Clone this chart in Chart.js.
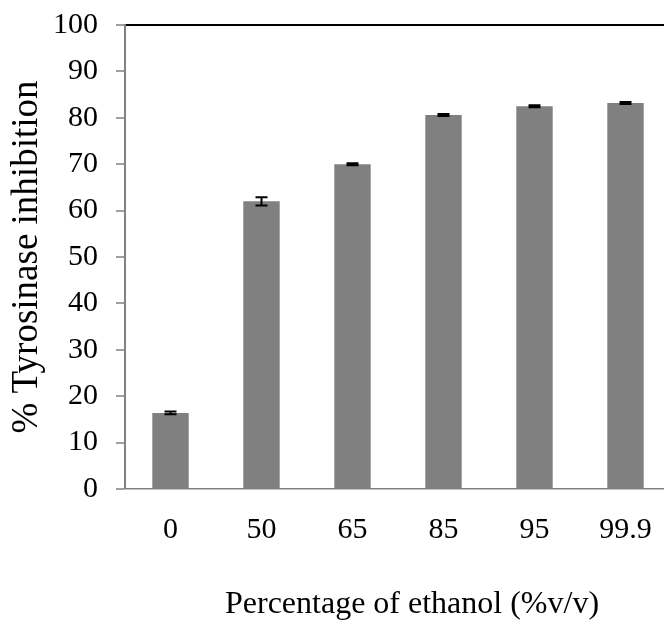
<!DOCTYPE html>
<html>
<head>
<meta charset="utf-8">
<script src="https://cdn.jsdelivr.net/npm/chart.js@4/dist/chart.umd.min.js"></script>
<style>
  html, body { margin: 0; padding: 0; background: #fff; overflow: hidden; }
  canvas { display: block; }
</style>
</head>
<body>
<canvas id="chart" width="824" height="628"></canvas>
<script>
// Ethanol concentration of the extraction solvent (% v/v)
const categories = ['0', '50', '65', '85', '95', '99.9'];
// Mean tyrosinase inhibition (%)
const inhibition = [16.4, 62.0, 70.0, 80.6, 82.5, 83.2];
// Standard deviation for each mean
const errors = [0.3, 0.9, 0.2, 0.2, 0.2, 0.2];
// Value-axis ticks
const yTicks = [0, 10, 20, 30, 40, 50, 60, 70, 80, 90, 100];

const serif = "'Liberation Serif', 'Times New Roman', serif";

// Draws a black error bar (whisker with caps) over each bar
const errorBarPlugin = {
  id: 'errorBars',
  afterDatasetsDraw(chart) {
    const { ctx, scales: { y } } = chart;
    const meta = chart.getDatasetMeta(0);
    ctx.save();
    ctx.strokeStyle = '#000';
    ctx.lineWidth = 2;
    meta.data.forEach((bar, i) => {
      const cx = bar.x;
      const hi = y.getPixelForValue(inhibition[i] + errors[i]);
      const lo = y.getPixelForValue(inhibition[i] - errors[i]);
      const half = 6;
      ctx.beginPath();
      ctx.moveTo(cx, hi); ctx.lineTo(cx, lo);
      ctx.moveTo(cx - half, hi); ctx.lineTo(cx + half, hi);
      ctx.moveTo(cx - half, lo); ctx.lineTo(cx + half, lo);
      ctx.stroke();
    });
    ctx.restore();
  }
};

new Chart(document.getElementById('chart'), {
  type: 'bar',
  data: {
    labels: categories,
    datasets: [{
      data: inhibition,
      backgroundColor: '#808080',
      borderWidth: 0,
      barPercentage: 0.4,
      categoryPercentage: 1,
      yAxisID: 'y'
    }]
  },
  options: {
    responsive: false,
    animation: false,
    devicePixelRatio: 1,
    layout: { padding: { left: 0, right: 0, top: 25, bottom: 0 } },
    plugins: {
      legend: { display: false },
      tooltip: { enabled: false },
      title: {
        display: true,
        position: 'bottom',
        text: 'Percentage of ethanol (%v/v)',
        color: '#000',
        font: { family: serif, size: 32, weight: 'normal' },
        padding: { top: 0, bottom: 4 }
      }
    },
    scales: {
      x: {
        offset: true,
        grid: { display: false, drawTicks: false },
        border: { display: true, color: '#808080', width: 1.5 },
        ticks: {
          color: '#000',
          padding: 23,
          font: { family: serif, size: 30 },
          maxRotation: 0
        },
        afterFit(scale) { scale.height = 96.6; }
      },
      y: {
        min: 0,
        max: 100,
        afterBuildTicks(scale) { scale.ticks = yTicks.map(v => ({ value: v })); },
        grid: {
          drawOnChartArea: true,
          color: c => (c.tick && c.tick.value === 100 ? '#000' : 'rgba(0,0,0,0)'),
          lineWidth: c => (c.tick && c.tick.value === 100 ? 2 : 0),
          tickColor: '#808080',
          tickWidth: 1.5,
          tickLength: 9
        },
        border: { display: true, color: '#808080', width: 2 },
        ticks: {
          color: '#000',
          padding: 18,
          font: { family: serif, size: 30 }
        },
        title: {
          display: true,
          text: '% Tyrosinase inhibition',
          color: '#000',
          font: { family: serif, size: 37 },
          padding: { top: 5, bottom: 0 }
        },
        afterFit(scale) {
          scale.width = 125;
          scale.paddingTop = 0;
          scale.paddingBottom = 0;
        }
      },
      // empty spacer on the right, reserves room beyond the visible page
      spacer: {
        type: 'linear',
        position: 'right',
        grid: { display: false },
        border: { display: false },
        ticks: { display: false },
        afterFit(scale) { scale.width = 153; }
      }
    }
  },
  plugins: [errorBarPlugin]
});
</script>
</body>
</html>
